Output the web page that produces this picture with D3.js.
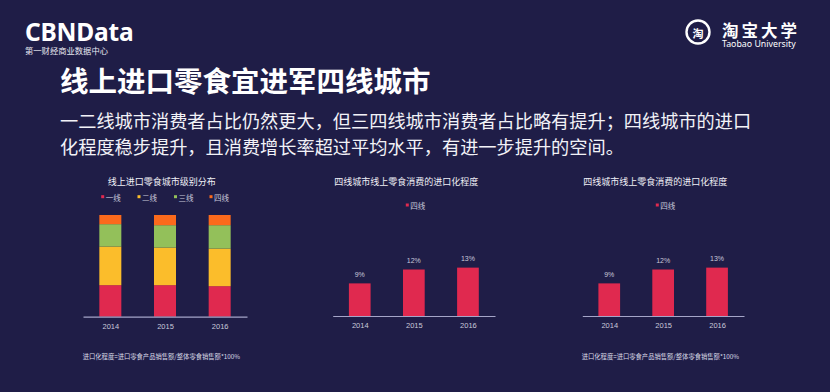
<!DOCTYPE html>
<html><head><meta charset="utf-8">
<script src="https://cdn.jsdelivr.net/npm/d3@7"></script>
<style>body{margin:0;background:#1f1d47;}svg{display:block;}</style>
</head><body>
<svg id="c" width="830" height="392"></svg>
<script>
// ---- data ----
const years = ["2014", "2015", "2016"];
const tierNames = ["一线", "二线", "三线", "四线"];
const tier1 = [31, 31, 30];
const tier2 = [38, 37, 37];
const tier3 = [22, 22, 23];
const tier4 = [9, 10, 10];
const importDegree = [8.7, 12.4, 12.9];      // 四线 import degree (%)
const importLabels = ["9%", "12%", "13%"];

const tierColors = ["#e0294f", "#fbbd2b", "#93c05a", "#fb6a1c"];
const FONT = "'Noto Sans CJK SC','Noto Sans',sans-serif";
const svg = d3.select("#c");
svg.append("rect").attr("width", 830).attr("height", 392).attr("fill", "#1f1d47");

// ---- header ----
svg.append("text").attr("x", 25).attr("y", 40.5).attr("fill", "#fff")
  .attr("font-family", "'Noto Sans',sans-serif").attr("font-weight", 700)
  .attr("font-size", 24.5).attr("letter-spacing", -0.2).text("CBNData");
svg.append("text").attr("x", 25).attr("y", 50).attr("dominant-baseline", "central")
  .attr("fill", "#e8e8f0").attr("font-family", FONT).attr("font-size", 8.3).text("第一财经商业数据中心");

svg.append("circle").attr("cx", 698).attr("cy", 32).attr("r", 11.5)
  .attr("fill", "none").attr("stroke", "#fff").attr("stroke-width", 2.4);
svg.append("text").attr("x", 698).attr("y", 32.5).attr("text-anchor", "middle")
  .attr("dominant-baseline", "central").attr("fill", "#fff").attr("font-family", FONT)
  .attr("font-weight", 700).attr("font-size", 11).text("淘");
svg.append("text").attr("x", 722).attr("y", 29.5).attr("dominant-baseline", "central")
  .attr("fill", "#fff").attr("font-family", FONT).attr("font-weight", 700)
  .attr("font-size", 16.5).attr("letter-spacing", 3).text("淘宝大学");
svg.append("text").attr("x", 722).attr("y", 43.5).attr("dominant-baseline", "central")
  .attr("fill", "#fff").attr("font-family", "'Noto Sans',sans-serif")
  .attr("font-size", 8.8).text("Taobao University");

svg.append("text").attr("x", 60).attr("y", 79).attr("dominant-baseline", "central")
  .attr("fill", "#fff").attr("font-family", FONT).attr("font-weight", 700)
  .attr("font-size", 28.5).text("线上进口零食宜进军四线城市");
svg.append("text").attr("x", 60).attr("y", 120).attr("dominant-baseline", "central")
  .attr("fill", "#f2f2f7").attr("font-family", FONT).attr("font-size", 18.2)
  .text("一二线城市消费者占比仍然更大，但三四线城市消费者占比略有提升；四线城市的进口");
svg.append("text").attr("x", 60).attr("y", 145.5).attr("dominant-baseline", "central")
  .attr("fill", "#f2f2f7").attr("font-family", FONT).attr("font-size", 18.2)
  .text("化程度稳步提升，且消费增长率超过平均水平，有进一步提升的空间。");

const labelColor = "#c9c9da";
const axisColor = "#a5a5c8";

function chartTitle(x, text) {
  svg.append("text").attr("x", x).attr("y", 181).attr("text-anchor", "middle")
    .attr("dominant-baseline", "central").attr("fill", "#f0f0f6").attr("font-family", FONT)
    .attr("font-size", 9).text(text);
}
function xAxis(x, y0) {
  const g = svg.append("g").attr("transform", `translate(0,${y0})`)
    .call(d3.axisBottom(x).tickSize(0).tickPadding(7));
  g.select(".domain").attr("stroke", axisColor).attr("stroke-width", 1.2);
  g.selectAll("text").attr("fill", labelColor).attr("font-size", 7.5)
    .attr("font-family", "'Liberation Sans',sans-serif");
}

// ---- stacked chart ----
{
  const x = d3.scalePoint().domain(years).range([83, 247]).padding(0.5);
  const y = d3.scaleLinear().domain([0, 100]).range([316.7, 215]);
  const rows = years.map((yr, i) => ({ year: yr, t0: tier1[i], t1: tier2[i], t2: tier3[i], t3: tier4[i] }));
  const series = d3.stack().keys(["t0", "t1", "t2", "t3"])(rows);
  const bw = 22;
  series.forEach((s, k) => {
    svg.append("g").selectAll("rect").data(s).join("rect")
      .attr("x", d => x(d.data.year) - bw / 2).attr("width", bw)
      .attr("y", d => y(d[1])).attr("height", d => y(d[0]) - y(d[1]))
      .attr("fill", tierColors[k]);
  });
  xAxis(x, 316.7);
  chartTitle(161.7, "线上进口零食城市级别分布");
  const lx = [102.7, 139, 175.5, 211];
  tierNames.forEach((n, k) => {
    svg.append("rect").attr("x", lx[k] - 1.5).attr("y", 195.2).attr("width", 3).attr("height", 3)
      .attr("fill", tierColors[k]);
    svg.append("text").attr("x", lx[k] + 3).attr("y", 197).attr("dominant-baseline", "central")
      .attr("fill", labelColor).attr("font-family", FONT).attr("font-size", 7.5).text(n);
  });
  svg.append("text").attr("x", 82.7).attr("y", 356).attr("dominant-baseline", "central")
    .attr("fill", "#dcdce8").attr("font-family", FONT).attr("font-size", 6.3)
    .text("进口化程度=进口零食产品销售额/整体零食销售额*100%");
}

// ---- bar charts ----
function barChart(x0, x1, titleX, legendX, withNote) {
  const x = d3.scalePoint().domain(years).range([x0, x1]).padding(0.5);
  const y = d3.scaleLinear().domain([0, 14]).range([316, 263.5]);
  const bw = 21.7;
  svg.append("g").selectAll("rect").data(importDegree).join("rect")
    .attr("x", (d, i) => x(years[i]) - bw / 2).attr("width", bw)
    .attr("y", d => y(d)).attr("height", d => y(0) - y(d)).attr("fill", tierColors[0]);
  svg.append("g").selectAll("text").data(importDegree).join("text")
    .attr("x", (d, i) => x(years[i])).attr("y", d => y(d) - 9)
    .attr("text-anchor", "middle").attr("dominant-baseline", "central")
    .attr("fill", labelColor).attr("font-family", "'Liberation Sans',sans-serif")
    .attr("font-size", 7).text((d, i) => importLabels[i]);
  xAxis(x, 316);
  chartTitle(titleX, "四线城市线上零食消费的进口化程度");
  svg.append("rect").attr("x", legendX - 1.5).attr("y", 203.5).attr("width", 3).attr("height", 3)
    .attr("fill", tierColors[0]);
  svg.append("text").attr("x", legendX + 3).attr("y", 205.3).attr("dominant-baseline", "central")
    .attr("fill", labelColor).attr("font-family", FONT).attr("font-size", 7.5).text(tierNames[3]);
  if (withNote) {
    svg.append("text").attr("x", withNote).attr("y", 356).attr("dominant-baseline", "central")
      .attr("fill", "#dcdce8").attr("font-family", FONT).attr("font-size", 6.3)
      .text("进口化程度=进口零食产品销售额/整体零食销售额*100%");
  }
}
barChart(332.7, 495, 406.3, 407.3, null);
barChart(582.3, 744, 655.3, 657.3, 581.7);
</script>
</body></html>
